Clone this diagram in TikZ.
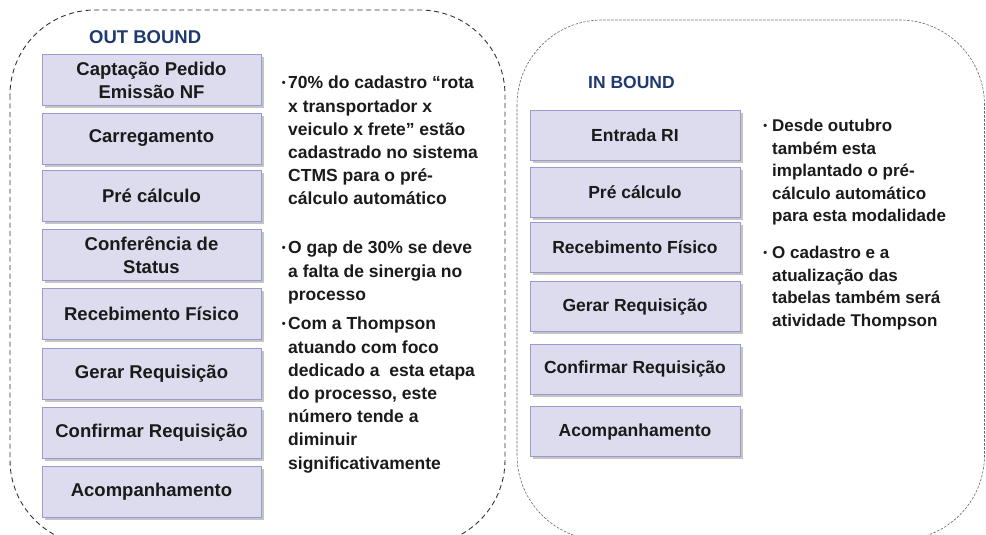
\documentclass[tikz,border=0pt]{standalone}
\usepackage{fontspec}
\setmainfont{Liberation Sans}
\usetikzlibrary{shadows}
\definecolor{boxfill}{HTML}{DCDCEE}
\definecolor{boxdraw}{HTML}{9A9ACC}
\definecolor{titleblue}{HTML}{1F3A70}
\definecolor{txt}{HTML}{1A1A1A}
\newcommand{\blt}[1]{\llap{\raisebox{2.5pt}{\fontsize{11}{11}\selectfont •}\hspace{#1}}}
\begin{document}
\begin{tikzpicture}[x=1pt,y=-1pt,
  stepbox/.style={draw=boxdraw, fill=boxfill, line width=1pt, inner sep=0pt,
    align=center, text=txt,
    drop shadow={shadow xshift=2.5pt, shadow yshift=-2.5pt, opacity=0.5, fill=black!45}},
  leftbox/.style={stepbox, minimum width=219pt, minimum height=51pt,
    font=\fontsize{18.5}{23}\selectfont\bfseries},
  rightbox/.style={stepbox, minimum width=210pt, minimum height=50pt,
    font=\fontsize{17.5}{21}\selectfont\bfseries},
  title/.style={anchor=west, inner sep=0pt, text=titleblue},
  lefttext/.style={anchor=north west, inner sep=0pt, align=left, text=txt,
    font=\fontsize{17.5}{23.2}\selectfont\bfseries},
  righttext/.style={anchor=north west, inner sep=0pt, align=left, text=txt,
    font=\fontsize{17}{22.5}\selectfont\bfseries},
  outline/.style={rounded corners=85pt}
]
\useasboundingbox (0,0) rectangle (986,535);
\clip (0,0) rectangle (986,535);
\fill[white] (0,0) rectangle (986,535);

% dashed groups
\draw[outline, draw=black!80, line width=0.9pt, dash pattern=on 5pt off 3.5pt]
  (10,10) rectangle (505,545);
\draw[outline, draw=black!60, line width=0.6pt, dash pattern=on 2.5pt off 1.5pt]
  (517,20) rectangle (984.5,540);

% titles
\node[title, font=\fontsize{18.5}{22}\selectfont\bfseries] (tout) at (89,37) {OUT BOUND};
\node[title, font=\fontsize{17.5}{21}\selectfont\bfseries] (tin) at (588,82) {IN BOUND};

% out bound steps
\node[leftbox] (o1) at (151.5,80.5) {Captação Pedido\\Emissão NF};
\node[leftbox] (o2) at (151.5,138.5) {Carregamento};
\node[leftbox] (o3) at (151.5,196) {Pré cálculo};
\node[leftbox] (o4) at (151.5,255) {Conferência de\\Status};
\node[leftbox] (o5) at (151.5,314) {Recebimento Físico};
\node[leftbox] (o6) at (151.5,373.5) {Gerar Requisição};
\node[leftbox] (o7) at (151.5,433) {Confirmar Requisição};
\node[leftbox] (o8) at (151.5,492) {Acompanhamento};

% in bound steps
\node[rightbox] (i1) at (635,135) {Entrada RI};
\node[rightbox] (i2) at (635,192) {Pré cálculo};
\node[rightbox] (i3) at (635,247) {Recebimento Físico};
\node[rightbox] (i4) at (635,306.5) {Gerar Requisição};
\node[rightbox] (i5) at (635,369) {Confirmar Requisição};
\node[rightbox] (i6) at (635,431.5) {Acompanhamento};

% out bound notes
\node[lefttext] (n1) at (288,76) {\blt{2.5pt}70\% do cadastro “rota\\x transportador x\\veiculo x frete” estão\\cadastrado no sistema\\CTMS para o pré-\\cálculo automático};
\node[lefttext] (n2) at (288,241) {\blt{2.5pt}O gap de 30\% se deve\\a falta de sinergia no\\processo};
\node[lefttext] (n3) at (288,317) {\blt{2.5pt}Com a Thompson\\atuando com foco\\dedicado a\ \ esta etapa\\do processo, este\\número tende a\\diminuir\\significativamente};

% in bound notes
\node[righttext] (m1) at (772,119) {\blt{5pt}Desde outubro\\também esta\\implantado o pré-\\cálculo automático\\para esta modalidade};
\node[righttext] (m2) at (772,246) {\blt{5pt}O cadastro e a\\atualização das\\tabelas também será\\atividade Thompson};
\end{tikzpicture}
\end{document}
